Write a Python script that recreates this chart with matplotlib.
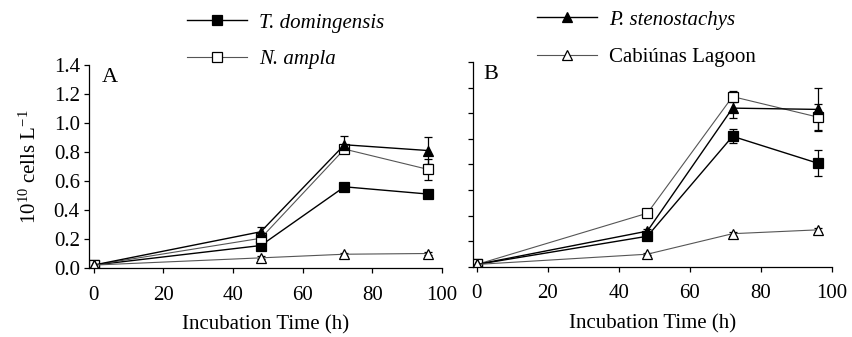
import matplotlib.pyplot as plt
import numpy as np

plt.rcParams['font.family'] = ['Liberation Serif', 'DejaVu Serif']
plt.rcParams['mathtext.fontset'] = 'custom'
plt.rcParams['mathtext.rm'] = 'Liberation Serif'
plt.rcParams['mathtext.it'] = 'Liberation Serif:italic'

# Data
hours = [0, 48, 72, 96]
labels = ['T. domingensis', 'N. ampla', 'P. stenostachys', 'Cabiúnas Lagoon']

# panel A
a_tdom = [0.02, 0.155, 0.56, 0.51]
a_tdom_err = [0.01, 0.02, 0.015, 0.02]
a_namp = [0.02, 0.205, 0.82, 0.68]
a_namp_err = [0.01, 0.015, 0.02, 0.07]
a_pste = [0.02, 0.25, 0.85, 0.81]
a_pste_err = [0.01, 0.03, 0.06, 0.095]
a_cab = [0.02, 0.07, 0.095, 0.10]
a_cab_err = [0.005, 0.01, 0.01, 0.01]

# panel B
b_tdom = [0.02, 0.24, 1.02, 0.81]
b_tdom_err = [0.01, 0.015, 0.055, 0.10]
b_namp = [0.02, 0.42, 1.33, 1.17]
b_namp_err = [0.01, 0.015, 0.04, 0.10]
b_pste = [0.02, 0.28, 1.24, 1.23]
b_pste_err = [0.01, 0.02, 0.08, 0.17]
b_cab = [0.02, 0.10, 0.26, 0.29]
b_cab_err = [0.005, 0.01, 0.015, 0.015]

fig = plt.figure(figsize=(8.53, 3.37), dpi=100)
axA = fig.add_axes([89/853, 69/337, 353/853, 203/337])
axB = fig.add_axes([473/853, 70/337, 359/853, 205/337])

styles = [
    dict(marker='s', color='black', mfc='black', ms=7, lw=1.0),
    dict(marker='s', color='#555555', mfc='white', mec='black', ms=7, lw=0.8),
    dict(marker='^', color='black', mfc='black', ms=7.5, lw=1.0),
    dict(marker='^', color='#555555', mfc='white', mec='black', ms=7.5, lw=0.8),
]


def draw(ax, series, errs):
    handles = []
    for vals, err, st in zip(series, errs, styles):
        eb = ax.errorbar(hours, vals, yerr=err, ecolor='black', elinewidth=0.9,
                         capsize=3, capthick=0.9, mew=0.9, **st)
        handles.append(eb.lines[0])
    return handles


hA = draw(axA, [a_tdom, a_namp, a_pste, a_cab],
          [a_tdom_err, a_namp_err, a_pste_err, a_cab_err])
draw(axB, [b_tdom, b_namp, b_pste, b_cab],
     [b_tdom_err, b_namp_err, b_pste_err, b_cab_err])

for ax in (axA, axB):
    for s in ('top', 'right'):
        ax.spines[s].set_visible(False)
    ax.spines['left'].set_linewidth(0.9)
    ax.spines['bottom'].set_linewidth(0.9)
    ax.set_xticks([0, 20, 40, 60, 80, 100])
    ax.tick_params(direction='out', length=3.6, width=0.9, labelsize=15)
    ax.tick_params(axis='x', pad=9)
    ax.tick_params(axis='y', pad=3)
    ax.set_xlabel('Incubation Time (h)', fontsize=15, labelpad=8)

axA.set_xlim(-1.3, 100)
axA.set_ylim(0, 1.4)
axA.set_yticks(np.arange(0, 1.41, 0.2))
axA.set_yticklabels(['%.1f' % v for v in np.arange(0, 1.41, 0.2)])
axA.set_ylabel(r'10$^{10}$ cells L$^{-1}$', fontsize=15, labelpad=9)

axB.set_xlim(-1.1, 100)
axB.set_ylim(0, 1.6)
axB.set_yticks(np.arange(0, 1.61, 0.2))
axB.set_yticklabels([])

axA.text(0.037, 0.985, 'A', transform=axA.transAxes, fontsize=16, va='top', ha='left')
axB.text(0.028, 0.985, 'B', transform=axB.transAxes, fontsize=16, va='top', ha='left')

common = dict(loc='upper left', frameon=False, borderpad=0, borderaxespad=0,
              handlelength=2.9, handletextpad=0.55, numpoints=1,
              prop={'family': 'Liberation Serif', 'size': 15})
leg1 = fig.legend(hA[:2], labels[:2], bbox_to_anchor=(187/853, 1 - 13/337),
                  labelspacing=0.82, **common)
leg2 = fig.legend(hA[2:], labels[2:], bbox_to_anchor=(537/853, 1 - 10/337),
                  labelspacing=0.86, **common)
for t in leg1.get_texts():
    t.set_fontstyle('italic')
leg2.get_texts()[0].set_fontstyle('italic')

fig.savefig('out.png', dpi=100)
